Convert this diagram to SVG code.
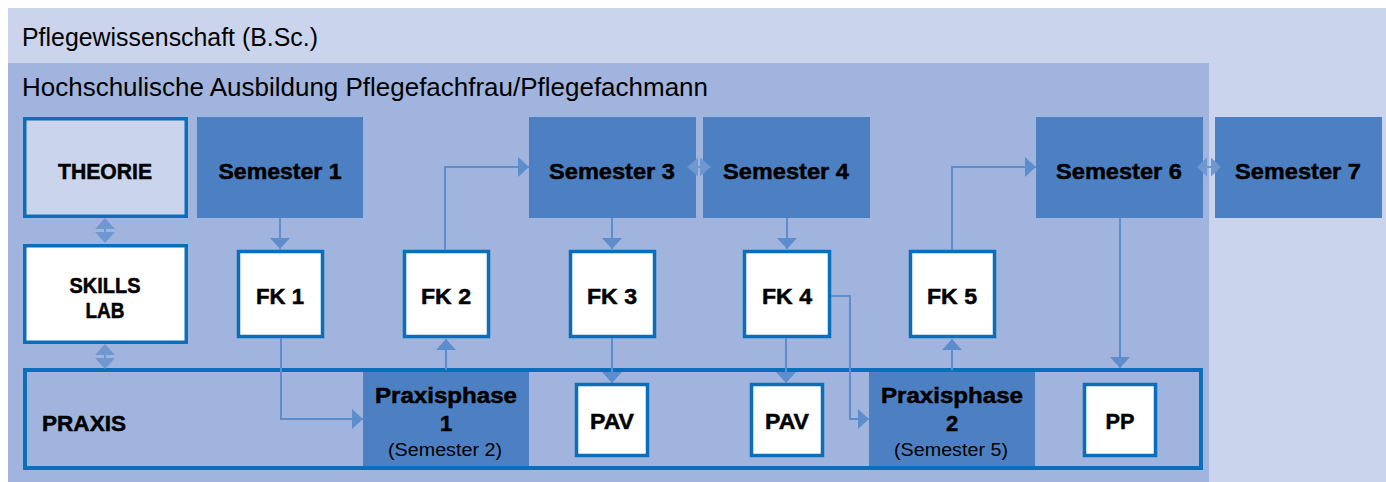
<svg xmlns="http://www.w3.org/2000/svg" width="1386" height="482" viewBox="0 0 1386 482">
<style>
.t{font-family:"Liberation Sans",Arial,sans-serif;fill:#000}
.h{font-size:25px}
.b{font-size:22px;font-weight:bold;stroke:#000;stroke-width:0.5}
.r{font-size:18px}
.sem{fill:#4D80C2}
.box{fill:#fff;stroke:#0B6EB8;stroke-width:3.5}
.ln{fill:none;stroke:#5E8DCD;stroke-width:2}
.da{fill:#6F97D0}
</style>
<defs>
<marker id="arr" viewBox="0 0 11 20" refX="11" refY="10" markerWidth="11" markerHeight="20" markerUnits="userSpaceOnUse" orient="auto">
<path d="M0,0 L11,10 L0,20 Z" fill="#5E8DCD"/>
</marker>
</defs>
<rect x="0" y="0" width="1386" height="482" fill="#fff"/>
<g id="outer">
<rect x="8" y="8" width="1378" height="474" fill="#CAD5ED"/>
<text class="t h" x="22" y="46" textLength="296" lengthAdjust="spacingAndGlyphs">Pflegewissenschaft (B.Sc.)</text>
</g>
<g id="inner">
<rect x="8" y="63" width="1201" height="419" fill="#A0B4DD"/>
<text class="t h" x="22" y="96" style="font-size:26px" textLength="686" lengthAdjust="spacingAndGlyphs">Hochschulische Ausbildung Pflegefachfrau/Pflegefachmann</text>
</g>
<g id="praxis-phases">
<rect class="sem" x="363" y="370" width="166" height="98"/>
<rect class="sem" x="869" y="370" width="166" height="98"/>
</g>
<g id="praxis">
<rect x="25" y="370" width="1176" height="98" fill="none" stroke="#0B6EB8" stroke-width="4"/>
<text class="t b" x="42" y="431" textLength="84" lengthAdjust="spacingAndGlyphs">PRAXIS</text>
</g>
<g id="praxisphase1">
<text class="t b" x="446" y="403" text-anchor="middle" textLength="142" lengthAdjust="spacingAndGlyphs">Praxisphase</text>
<text class="t b" x="446" y="431" text-anchor="middle">1</text>
<text class="t r" x="445" y="456" text-anchor="middle" textLength="114" lengthAdjust="spacingAndGlyphs">(Semester 2)</text>
</g>
<g id="praxisphase2">
<text class="t b" x="952" y="403" text-anchor="middle" textLength="142" lengthAdjust="spacingAndGlyphs">Praxisphase</text>
<text class="t b" x="952" y="431" text-anchor="middle">2</text>
<text class="t r" x="951" y="456" text-anchor="middle" textLength="114" lengthAdjust="spacingAndGlyphs">(Semester 5)</text>
</g>
<g id="theorie">
<rect x="24.75" y="118.75" width="161.5" height="97.5" fill="#CAD5ED" stroke="#0B6EB8" stroke-width="3.5"/>
<text class="t b" x="105" y="179" text-anchor="middle" textLength="94" lengthAdjust="spacingAndGlyphs">THEORIE</text>
</g>
<g id="skills-lab">
<rect class="box" x="24.75" y="245.75" width="161.5" height="96.5"/>
<text class="t b" x="105" y="293" text-anchor="middle" textLength="71" lengthAdjust="spacingAndGlyphs">SKILLS</text>
<text class="t b" x="105" y="318" text-anchor="middle" textLength="39" lengthAdjust="spacingAndGlyphs">LAB</text>
</g>
<g id="semester1">
<rect class="sem" x="197" y="117" width="166" height="101"/>
<text class="t b" x="280" y="179" text-anchor="middle" textLength="123" lengthAdjust="spacingAndGlyphs">Semester 1</text>
</g>
<g id="semester3">
<rect class="sem" x="529" y="117" width="167" height="101"/>
<text class="t b" x="612" y="179" text-anchor="middle" textLength="126" lengthAdjust="spacingAndGlyphs">Semester 3</text>
</g>
<g id="semester4">
<rect class="sem" x="703" y="117" width="167" height="101"/>
<text class="t b" x="786" y="179" text-anchor="middle" textLength="126" lengthAdjust="spacingAndGlyphs">Semester 4</text>
</g>
<g id="semester6">
<rect class="sem" x="1036" y="117" width="167" height="101"/>
<text class="t b" x="1119" y="179" text-anchor="middle" textLength="126" lengthAdjust="spacingAndGlyphs">Semester 6</text>
</g>
<g id="semester7">
<rect class="sem" x="1215" y="117" width="167" height="101"/>
<text class="t b" x="1298" y="179" text-anchor="middle" textLength="126" lengthAdjust="spacingAndGlyphs">Semester 7</text>
</g>
<g id="fk1">
<rect class="box" x="238.5" y="251.5" width="84" height="85"/>
<text class="t b" x="280" y="304" text-anchor="middle" textLength="48" lengthAdjust="spacingAndGlyphs">FK 1</text>
</g>
<g id="fk2">
<rect class="box" x="404.5" y="251.5" width="84" height="85"/>
<text class="t b" x="446" y="304" text-anchor="middle" textLength="50" lengthAdjust="spacingAndGlyphs">FK 2</text>
</g>
<g id="fk3">
<rect class="box" x="570.5" y="251.5" width="84" height="85"/>
<text class="t b" x="612" y="304" text-anchor="middle" textLength="50" lengthAdjust="spacingAndGlyphs">FK 3</text>
</g>
<g id="fk4">
<rect class="box" x="744.5" y="251.5" width="85" height="85"/>
<text class="t b" x="787" y="304" text-anchor="middle" textLength="50" lengthAdjust="spacingAndGlyphs">FK 4</text>
</g>
<g id="fk5">
<rect class="box" x="910.5" y="251.5" width="84" height="85"/>
<text class="t b" x="952" y="304" text-anchor="middle" textLength="50" lengthAdjust="spacingAndGlyphs">FK 5</text>
</g>
<g id="pav1">
<rect class="box" x="576.5" y="384.5" width="71" height="71"/>
<text class="t b" x="612" y="429" text-anchor="middle" textLength="44" lengthAdjust="spacingAndGlyphs">PAV</text>
</g>
<g id="pav2">
<rect class="box" x="751.5" y="384.5" width="71" height="71"/>
<text class="t b" x="787" y="429" text-anchor="middle" textLength="44" lengthAdjust="spacingAndGlyphs">PAV</text>
</g>
<g id="pp">
<rect class="box" x="1084.5" y="384.5" width="71" height="71"/>
<text class="t b" x="1120" y="429" text-anchor="middle" textLength="29" lengthAdjust="spacingAndGlyphs">PP</text>
</g>
<g id="connectors">
<path class="ln" d="M280,218 V249" marker-end="url(#arr)"/>
<path class="ln" d="M281,338 V419 H363" marker-end="url(#arr)"/>
<path class="ln" d="M446,370 V339" marker-end="url(#arr)"/>
<path class="ln" d="M445,250 V167 H529" marker-end="url(#arr)"/>
<path class="ln" d="M612,218 V249" marker-end="url(#arr)"/>
<path class="ln" d="M612,338 V383" marker-end="url(#arr)"/>
<path class="ln" d="M787,218 V249" marker-end="url(#arr)"/>
<path class="ln" d="M786,338 V383" marker-end="url(#arr)"/>
<path class="ln" d="M831,296 H850 V419 H869" marker-end="url(#arr)"/>
<path class="ln" d="M952,370 V339" marker-end="url(#arr)"/>
<path class="ln" d="M952,250 V167 H1036" marker-end="url(#arr)"/>
<path class="ln" d="M1120,218 V368" marker-end="url(#arr)"/>
<g class="da">
<path d="M105,218 L115,229 L95,229 Z"/><rect x="104" y="229" width="2" height="4"/><path d="M95,232 L115,232 L105,243 Z"/>
<path d="M105,344 L115,355 L95,355 Z"/><rect x="104" y="355" width="2" height="4"/><path d="M95,358 L115,358 L105,369 Z"/>
<path d="M687,167 L698,157.5 L698,176.5 Z"/><rect x="697" y="166" width="4" height="2"/><path d="M700,157.5 L711,167 L700,176.5 Z"/>
<path d="M1197,167 L1207,157.5 L1207,176.5 Z"/><rect x="1206" y="166" width="6" height="2"/><path d="M1211,157.5 L1221,167 L1211,176.5 Z"/>
</g>
</g>
</svg>
